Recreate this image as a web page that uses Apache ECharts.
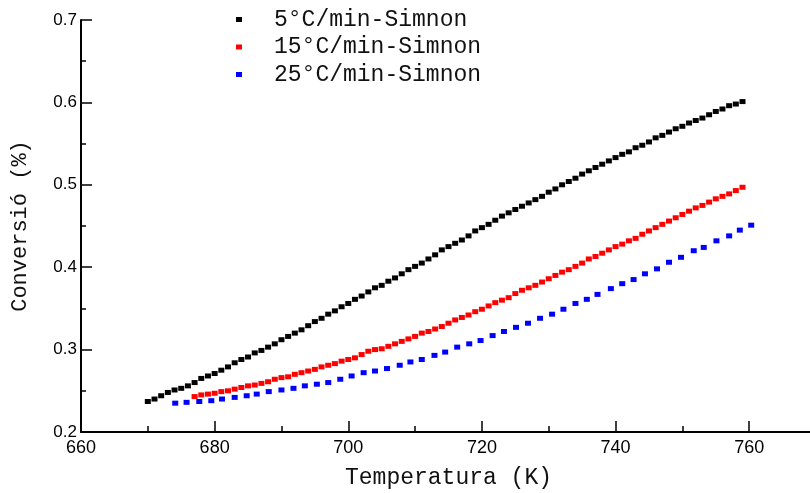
<!DOCTYPE html>
<html>
<head>
<meta charset="utf-8">
<script src="https://cdn.jsdelivr.net/npm/echarts@6/dist/echarts.min.js"></script>
<style>
  html, body { margin: 0; padding: 0; background: #fff; }
  #chart { width: 810px; height: 493px; }
</style>
</head>
<body>
<div id="chart"></div>
<script>
// Conversion vs temperature, Simnon model at three heating rates.

// 5 °C/min: temperature (K) and conversion
const tempBlack = [670,671,672,673,674,675,676,677,678,679,680,681,682,683,684,685,686,687,688,689,
  690,691,692,693,694,695,696,697,698,699,700,701,702,703,704,705,706,707,708,709,
  710,711,712,713,714,715,716,717,718,719,720,721,722,723,724,725,726,727,728,729,
  730,731,732,733,734,735,736,737,738,739,740,741,742,743,744,745,746,747,748,749,
  750,751,752,753,754,755,756,757,758,759];
const convBlack = [0.237,0.240,0.244,0.248,0.251,0.253,0.256,0.260,0.265,0.268,0.271,0.275,0.279,0.284,0.288,0.291,0.296,0.299,0.303,0.307,
  0.312,0.316,0.320,0.324,0.329,0.334,0.338,0.343,0.347,0.352,0.356,0.361,0.365,0.370,0.375,0.378,0.383,0.387,0.392,0.397,
  0.401,0.405,0.410,0.415,0.421,0.425,0.429,0.433,0.438,0.444,0.448,0.452,0.457,0.462,0.466,0.470,0.474,0.478,0.482,0.486,
  0.491,0.495,0.500,0.504,0.508,0.513,0.517,0.521,0.525,0.529,0.533,0.537,0.540,0.545,0.548,0.552,0.557,0.560,0.564,0.568,
  0.571,0.575,0.578,0.581,0.585,0.589,0.592,0.596,0.598,0.601];

// 15 °C/min
const tempRed = [677,678,679,680,681,682,683,684,685,686,687,688,689,690,691,692,693,694,695,696,
  697,698,699,700,701,702,703,704,705,706,707,708,709,710,711,712,713,714,715,716,
  717,718,719,720,721,722,723,724,725,726,727,728,729,730,731,732,733,734,735,736,
  737,738,739,740,741,742,743,744,745,746,747,748,749,750,751,752,753,754,755,756,
  757,758,759];
const convRed = [0.243,0.245,0.246,0.247,0.249,0.250,0.252,0.254,0.256,0.257,0.259,0.261,0.264,0.266,0.267,0.270,0.272,0.274,0.276,0.279,
  0.281,0.283,0.286,0.288,0.290,0.294,0.298,0.300,0.301,0.304,0.307,0.310,0.313,0.316,0.320,0.322,0.325,0.328,0.332,0.336,
  0.339,0.342,0.346,0.349,0.353,0.357,0.360,0.363,0.368,0.372,0.375,0.378,0.382,0.386,0.390,0.394,0.397,0.401,0.405,0.410,
  0.413,0.417,0.421,0.425,0.428,0.432,0.435,0.440,0.444,0.448,0.452,0.456,0.460,0.464,0.468,0.472,0.475,0.479,0.483,0.486,
  0.489,0.493,0.497];

// 25 °C/min
const tempBlue = [674.1,675.8,677.7,679.5,681.1,683.0,684.8,686.3,688.1,690.0,691.8,693.5,695.3,697.0,698.8,700.5,
  702.3,704.0,705.8,707.7,709.3,711.0,712.9,714.5,716.3,718.1,719.8,721.6,723.3,725.1,726.9,728.7,
  730.5,732.2,734.0,735.7,737.3,739.3,741.0,742.7,744.4,746.2,748.0,749.8,751.7,753.2,755.1,757.0,
  758.6,760.3];
const convBlue = [0.235,0.236,0.237,0.238,0.240,0.242,0.244,0.246,0.249,0.251,0.253,0.256,0.258,0.260,0.264,0.268,
  0.272,0.274,0.277,0.281,0.285,0.288,0.293,0.297,0.303,0.307,0.311,0.317,0.322,0.327,0.332,0.338,
  0.343,0.349,0.356,0.361,0.367,0.374,0.380,0.385,0.392,0.398,0.406,0.412,0.420,0.424,0.432,0.438,
  0.445,0.451];

const seriesNames = ['5°C/min-Simnon', '15°C/min-Simnon', '25°C/min-Simnon'];
const seriesColors = ['#000000', '#ff0000', '#0000ff'];
const xTitle = 'Temperatura (K)';
const yTitle = 'Conversió (%)';

const zip = (xs, ys) => xs.map((x, i) => [x, ys[i]]);
const seriesData = [zip(tempBlack, convBlack), zip(tempRed, convRed), zip(tempBlue, convBlue)];

const mono = '"Liberation Mono", "Courier New", monospace';

const chart = echarts.init(document.getElementById('chart'), null, { renderer: 'canvas' });
chart.setOption({
  backgroundColor: '#ffffff',
  animation: false,
  grid: { left: 81, top: 20, right: -6, bottom: 61, containLabel: false, outerBoundsMode: 'none' },
  legend: {
    orient: 'vertical',
    left: 231,
    top: 3,
    itemWidth: 6,
    itemHeight: 5,
    itemGap: 4.5,
    icon: 'rect',
    textStyle: {
      fontFamily: mono, fontSize: 23, color: '#111', lineHeight: 23,
      padding: [0, 0, 0, 27]
    },
    data: seriesNames
  },
  xAxis: {
    type: 'value',
    min: 660, max: 770, interval: 20,
    name: xTitle,
    nameLocation: 'middle',
    nameGap: 34,
    nameTextStyle: { fontFamily: mono, fontSize: 23, color: '#111' },
    axisLine: { show: true, onZero: false, lineStyle: { color: '#000', width: 2 } },
    axisTick: { show: true, inside: true, length: 11, lineStyle: { color: '#000', width: 1.5 } },
    minorTick: { show: true, splitNumber: 2, length: 6, lineStyle: { color: '#000', width: 1.5 } },
    splitLine: { show: false },
    axisLabel: {
      margin: 7, color: '#000', fontSize: 18,
      fontFamily: '"Liberation Sans Narrow", "Liberation Sans", Arial, sans-serif',
      showMaxLabel: false
    }
  },
  yAxis: {
    type: 'value',
    min: 0.2, max: 0.7, interval: 0.1,
    name: yTitle,
    nameLocation: 'middle',
    nameGap: 50,
    nameRotate: 90,
    nameTextStyle: { fontFamily: mono, fontSize: 22, color: '#111' },
    axisLine: { show: true, onZero: false, lineStyle: { color: '#000', width: 2 } },
    axisTick: { show: true, inside: true, length: 11, lineStyle: { color: '#000', width: 1.5 } },
    minorTick: { show: true, splitNumber: 2, length: 5, lineStyle: { color: '#000', width: 1.5 } },
    splitLine: { show: false },
    axisLabel: {
      margin: 4, color: '#000', fontSize: 17,
      fontFamily: '"Liberation Sans", Arial, sans-serif',
      formatter: v => v.toFixed(1)
    }
  },
  series: seriesNames.map((name, i) => ({
    name: name,
    type: 'scatter',
    symbol: 'rect',
    symbolSize: [6, 5],
    data: seriesData[i],
    itemStyle: { color: seriesColors[i], opacity: 1 },
    emphasis: { disabled: true }
  }))
});
</script>
</body>
</html>
